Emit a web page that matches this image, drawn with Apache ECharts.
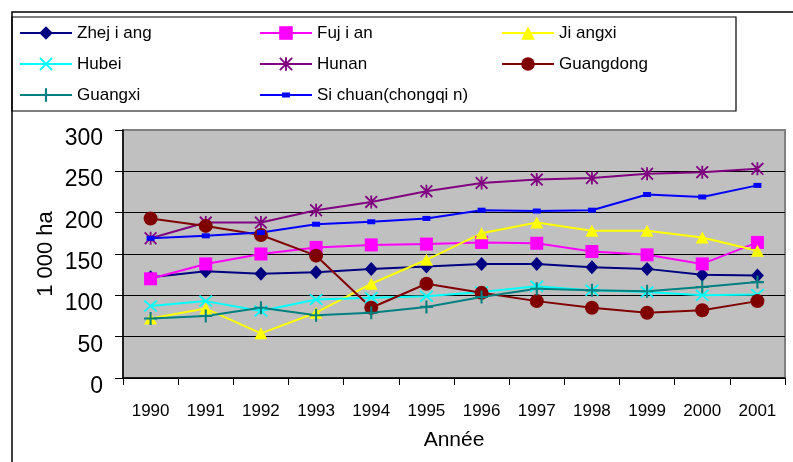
<!DOCTYPE html>
<html><head><meta charset="utf-8">
<script src="https://cdn.jsdelivr.net/npm/echarts@6/dist/echarts.min.js"></script>
<style>html,body{margin:0;padding:0;background:#fff}#c{width:793px;height:462px}</style>
</head><body><div id="c"></div>
<script>
var years = ['1990','1991','1992','1993','1994','1995','1996','1997','1998','1999','2000','2001'];
var zhejiang  = [122, 129, 126, 128, 132, 135, 138, 138, 134, 132, 125, 124];
var fujian    = [120, 138, 150, 158, 161, 162, 164, 163, 153, 149, 138, 164];
var jiangxi   = [72, 84, 54, 79, 114, 143, 175, 188, 178, 178, 170, 154];
var hubei     = [87, 93, 81, 95, 97, 99, 104, 111, 106, 104, 100, 101];
var hunan     = [169, 188, 188, 203, 213, 226, 236, 240, 242, 247, 249, 253];
var guangdong = [193, 184, 173, 148, 85, 114, 103, 93, 85, 79, 82, 93];
var guangxi   = [72, 75, 85, 76, 79, 86, 98, 108, 106, 105, 110, 116];
var sichuan   = [169, 172, 176, 186, 189, 193, 203, 202, 203, 222, 219, 233];
var names = ['Zhej i ang','Fuj i an','Ji angxi','Hubei','Hunan','Guangdong','Guangxi','Si chuan(chongqi n)'];
var yTicks = [0, 50, 100, 150, 200, 250, 300];

var FONT = "'Liberation Sans', Arial, sans-serif";
var X_PATH = 'path://M0,1 L1,0 L10,9 L9,10 Z M9,0 L10,1 L1,10 L0,9 Z';
var AST_PATH = 'path://M0,1 L1,0 L10,9 L9,10 Z M9,0 L10,1 L1,10 L0,9 Z M4.3,0 L5.7,0 L5.7,10 L4.3,10 Z';
var PLUS_PATH = 'path://M4.2,0 L5.8,0 L5.8,4.2 L10,4.2 L10,5.8 L5.8,5.8 L5.8,10 L4.2,10 L4.2,5.8 L0,5.8 L0,4.2 L4.2,4.2 Z';
// legend icon for the short-dash marker: line + small dash, in a 52x17 box
var DASH_ICON = 'path://M0,0 L0.01,0 L0,0.01 Z M0,17 L0.01,17 L0,16.99 Z M0,7.5 L52,7.5 L52,9.5 L0,9.5 Z M22,6 L30,6 L30,11 L22,11 Z';

function mk(name, data, color, symbol, size) {
  return {
    name: name, type: 'line', data: data, symbol: symbol, symbolSize: size,
    lineStyle: {color: color, width: 2},
    itemStyle: {color: color, borderWidth: 0},
    emphasis: {disabled: true}
  };
}
var series = [
  mk(names[0], zhejiang, '#000080', 'diamond', [13, 14]),
  mk(names[1], fujian, '#FF00FF', 'rect', 13),
  mk(names[2], jiangxi, '#FFFF00', 'triangle', [13, 12]),
  mk(names[3], hubei, '#00FFFF', X_PATH, [14, 12]),
  mk(names[4], hunan, '#800080', AST_PATH, 13),
  mk(names[5], guangdong, '#800000', 'circle', 14),
  mk(names[6], guangxi, '#008080', PLUS_PATH, 13),
  mk(names[7], sichuan, '#0000FF', 'rect', [8, 5])
];

function leg(left, data) {
  return {
    orient: 'vertical', left: left, top: 23, padding: 0, itemWidth: 52, itemHeight: 17, itemGap: 11,
    data: data, selectedMode: false,
    textStyle: {fontFamily: FONT, fontSize: 17, color: '#000', lineHeight: 20}
  };
}

var chart = echarts.init(document.getElementById('c'), null, {renderer: 'canvas'});
chart.setOption({
  animation: false,
  backgroundColor: '#fff',
  legend: [
    leg(19, [names[0], names[3], names[6]]),
    leg(259, [names[1], names[4], {name: names[7], icon: DASH_ICON}]),
    leg(501, [names[2], names[5]])
  ],
  graphic: [
    {type: 'rect', shape: {x: 12, y: 12, width: 800, height: 470}, style: {fill: 'none', stroke: '#000', lineWidth: 1.5}, silent: true, z: 0},
    {type: 'rect', shape: {x: 12, y: 17, width: 724, height: 94}, style: {fill: 'none', stroke: '#000', lineWidth: 1.2}, silent: true, z: 0}
  ],
  grid: {left: 123, right: 8, top: 130, bottom: 84, show: true, backgroundColor: '#C0C0C0', borderColor: '#808080', borderWidth: 2},
  xAxis: {
    type: 'category', data: years, boundaryGap: true,
    name: 'Année', nameLocation: 'middle', nameGap: 52, nameMoveOverlap: false,
    nameTextStyle: {fontFamily: FONT, fontSize: 21, color: '#000'},
    axisLine: {lineStyle: {color: '#000', width: 1.5}},
    axisTick: {show: true, length: 7, lineStyle: {color: '#000'}},
    axisLabel: {fontFamily: FONT, fontSize: 17, color: '#000', margin: 25, interval: 0}
  },
  yAxis: {
    type: 'value', min: yTicks[0], max: yTicks[yTicks.length - 1], interval: 50,
    name: '1 000 ha', nameLocation: 'middle', nameGap: 66, nameRotate: 90, nameMoveOverlap: false,
    nameTextStyle: {fontFamily: FONT, fontSize: 22, color: '#000'},
    axisLine: {show: true, lineStyle: {color: '#000', width: 1.5}},
    axisTick: {show: true, length: 8, lineStyle: {color: '#000'}},
    axisLabel: {fontFamily: FONT, fontSize: 23, color: '#000', margin: 20, verticalAlign: 'top', lineHeight: 17},
    splitLine: {show: true, lineStyle: {color: ['#000', '#000', '#000', '#000', '#000', '#000', '#808080'], width: 1}}
  },
  series: series
});
</script>
</body></html>
